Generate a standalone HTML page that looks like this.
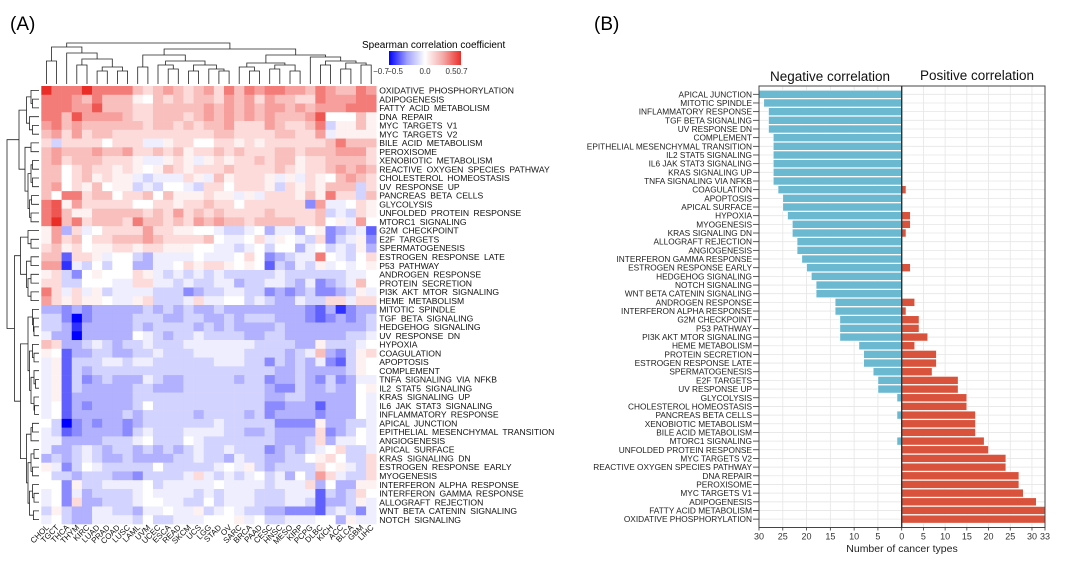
<!DOCTYPE html>
<html><head><meta charset="utf-8"><style>
html,body{margin:0;padding:0;background:#fff;}
svg{display:block;font-family:"Liberation Sans",Arial,sans-serif;}
</style></head><body>
<svg id="fig" width="1080" height="569" viewBox="0 0 1080 569" xmlns="http://www.w3.org/2000/svg">
<defs><linearGradient id="cb" x1="0" x2="1" y1="0" y2="0">
<stop offset="0" stop-color="rgb(0,0,255)"/><stop offset="0.25" stop-color="rgb(160,160,255)"/><stop offset="0.5" stop-color="#fff"/><stop offset="0.75" stop-color="rgb(245,170,168)"/><stop offset="1" stop-color="rgb(235,45,40)"/></linearGradient></defs>
<text x="10" y="30" font-size="19">(A)</text>
<text x="594" y="30" font-size="19">(B)</text>
<g>
<text x="362" y="48" font-size="10">Spearman correlation coefficient</text>
<rect x="389" y="51" width="72" height="14" fill="url(#cb)"/>
<g font-size="8" fill="#333" text-anchor="middle">
<text x="381" y="74">−0.7</text><text x="395" y="74">−0.5</text><text x="425" y="74">0.0</text><text x="451" y="74">0.5</text><text x="462" y="74">0.7</text></g>
</g>
<g id="heat"></g>
<g id="dendro"></g>
<g id="bars"></g>
</svg>
<script>
const rowNames=["OXIDATIVE PHOSPHORYLATION","ADIPOGENESIS","FATTY ACID METABOLISM","DNA REPAIR","MYC TARGETS V1","MYC TARGETS V2","BILE ACID METABOLISM","PEROXISOME","XENOBIOTIC METABOLISM","REACTIVE OXYGEN SPECIES PATHWAY","CHOLESTEROL HOMEOSTASIS","UV RESPONSE UP","PANCREAS BETA CELLS","GLYCOLYSIS","UNFOLDED PROTEIN RESPONSE","MTORC1 SIGNALING","G2M CHECKPOINT","E2F TARGETS","SPERMATOGENESIS","ESTROGEN RESPONSE LATE","P53 PATHWAY","ANDROGEN RESPONSE","PROTEIN SECRETION","PI3K AKT MTOR SIGNALING","HEME METABOLISM","MITOTIC SPINDLE","TGF BETA SIGNALING","HEDGEHOG SIGNALING","UV RESPONSE DN","HYPOXIA","COAGULATION","APOPTOSIS","COMPLEMENT","TNFA SIGNALING VIA NFKB","IL2 STAT5 SIGNALING","KRAS SIGNALING UP","IL6 JAK STAT3 SIGNALING","INFLAMMATORY RESPONSE","APICAL JUNCTION","EPITHELIAL MESENCHYMAL TRANSITION","ANGIOGENESIS","APICAL SURFACE","KRAS SIGNALING DN","ESTROGEN RESPONSE EARLY","MYOGENESIS","INTERFERON ALPHA RESPONSE","INTERFERON GAMMA RESPONSE","ALLOGRAFT REJECTION","WNT BETA CATENIN SIGNALING","NOTCH SIGNALING"];
const colNames=["CHOL","TGCT","THCA","THYM","KIRC","LUAD","PRAD","COAD","LUSC","LAML","UVM","UCEC","ESCA","READ","SKCM","UCS","LGG","STAD","OV","SARC","BRCA","PAAD","CESC","HNSC","MESO","KIRP","PCPG","DLBC","KICH","ACC","BLCA","GBM","LIHC"];
// Correlation matrix: letter code A=-0.7 ... H=0 ... O=+0.7
const heatRows=[
"OMMMOMMMMKJKLKJKLJMKMLMMLLKMLKKML","MMMLKMKKKIHKJKJKKJLKLJLKKJJMLLLMM","MMMLLNKKKJJKKKKKLKLKLKLLKLKLLLMMM",
"MMKNLLLLKJJKKKJKLKLKLKLKKKLNHHHKI","LMKLKKKKKKJKKJKJKKLJJJLKJJKMFIIKI","KLJLJKKJJJJJJJJJJKKJJJJKKJJLGIIII",
"JFJJJJHJJJGGIJJHHJJIJIJJJJJJKMKKK","KLKKKLKKLJJKJKIJJKJKJJJKKJKKKLLLJ","KLJKKKJJJIGGIJIGIJIJJKJKKIJJKKKKJ",
"KKHJKJJIJIHIKJIJJJKJJJJKJIJJKLKLK","KKHJKIJIIGFGGGJIGKIJJJIGIGJIHKLKJ","KLHJIKHIIFGFHHGFJJHJJJIFJIJIKKKFJ",
"KHMMJKKHJJKHKIIIJIIGIGJJJIKIMJJFK","MNILJJJJJHHJJIJJKJJHJJJJJJDLGGHJI","MNKIIKKKKKJKJLJKJKJJJJKJJJJKFGFJI",
"MOKMJKKKJMKKJKJLKLKKJKKKKJJKHIGLH","ILEJGHJJJJLJJIIHHGFFGHEGGEHIDEFGC","ILJKHJJKKKLKJJJJKHGGHJGIHGFJDFGID",
"JKIJHIIJJIJJIIIHHGGFGHFHHEGHFGFIE","KKCJJIGHHFEGGGGHGGGHJHDEFGGMHGFHJ","LLBGFHFHHEEGGHJIJJIHIHCFEGFIGHGHI",
"IJFDHIHHHJIGFGFGFGFFFFFGFFFFFFGGH","JJFFHHHGGJJGGFGFFGGEFFGGFEGDEFGKH","MJGJGIFGGGGFFFDEFFGGFFDEDEFDDEFIG",
"LJIJIIHGGIJFFFGJGGHHFGFEEGFFJJGJJ","EEDEDEEEEEFEFEFEEFEEEEEEEEDCEBDEE","FFDADEEEEFFFEEFFEEFEFFFEEEDCDEDEF",
"FFEBEEEEEFEFFFFEFEFEEEEFEEEEEEEEF","GEEAEEEEEHGFEFFGFFFFEEFFEEEEEEFFG","KJEEFGFEFFGFFFGGGGGGGFFFFEEIFFFGH",
"IHCEEFFEEFFGFFFGGGGGFFFFEFGKEDFIJ","GICFFFGGFGGFFFFFFGGGFFDFEFEGDCFIH","GICFEFFFFFFFFFFFFFFFFFFEEFEEEEFIH",
"GICFDEFEEEGFEEFFFFFEFFDEEFEDFDEGG","GICFEEEEEFFEEEFFFFFFFFEDDFEEFEEHI","GICEEEEEEFFFFFFFFFFFFFEEFFEEEEEHG",
"GHCEDEEEEFHFFFFFFFFFFFDDEEECEEEHG","GHCEEEEEFEFFFFFEFFFFEFDEEEEDEEEHG","HFADEDEEDEFFFFFFFGFFFFFDDDDIEEFFG",
"GFCDEEEEDFGFFFGGGGFFEEFEEEEJDEFHG","GGEEEEFFFGHFFFHGFFFFFFFEEEFJEGGHG","GEEFGFEFFEFEFEFGFFGFFFDEFEFGHJFFG",
"EFEFGFEEFEEEEFFGFFEGFFEEFFHIJHFFJ","IGDFHGFFFFFHFFFFFGHGIFEFFFFJHIGFJ","HFFEFFFEEDFFFFGJGFGFGHFGEHFLJGFFJ",
"HHDIFFGGGGHFGGGGGHGGGGFGGGJEHEEII","GHDGEFFFFGHGGGGFGFGGGFFFGGGCFEFJH","GHDJEEFFFGHHGGFFHFGGGFFFGGFCEEFIG",
"FIFEEGGFFEGGHGGIFGHGFFEEDDDCFGFDG","GHFEEGGGGFHFFGGGHHHIGHFFGGGHHEIGG"];
// Bar chart data (number of cancer types)
const barNames=["APICAL JUNCTION","MITOTIC SPINDLE","INFLAMMATORY RESPONSE","TGF BETA SIGNALING","UV RESPONSE DN","COMPLEMENT","EPITHELIAL MESENCHYMAL TRANSITION","IL2 STAT5 SIGNALING","IL6 JAK STAT3 SIGNALING","KRAS SIGNALING UP","TNFA SIGNALING VIA NFKB","COAGULATION","APOPTOSIS","APICAL SURFACE","HYPOXIA","MYOGENESIS","KRAS SIGNALING DN","ALLOGRAFT REJECTION","ANGIOGENESIS","INTERFERON GAMMA RESPONSE","ESTROGEN RESPONSE EARLY","HEDGEHOG SIGNALING","NOTCH SIGNALING","WNT BETA CATENIN SIGNALING","ANDROGEN RESPONSE","INTERFERON ALPHA RESPONSE","G2M CHECKPOINT","P53 PATHWAY","PI3K AKT MTOR SIGNALING","HEME METABOLISM","PROTEIN SECRETION","ESTROGEN RESPONSE LATE","SPERMATOGENESIS","E2F TARGETS","UV RESPONSE UP","GLYCOLYSIS","CHOLESTEROL HOMEOSTASIS","PANCREAS BETA CELLS","XENOBIOTIC METABOLISM","BILE ACID METABOLISM","MTORC1 SIGNALING","UNFOLDED PROTEIN RESPONSE","MYC TARGETS V2","REACTIVE OXYGEN SPECIES PATHWAY","DNA REPAIR","PEROXISOME","MYC TARGETS V1","ADIPOGENESIS","FATTY ACID METABOLISM","OXIDATIVE PHOSPHORYLATION"];
const negCounts=[30,29,28,28,28,27,27,27,27,27,27,26,25,25,24,23,23,22,22,21,20,19,18,18,14,14,13,13,13,9,8,8,6,5,5,1,0,1,0,0,1,0,0,0,0,0,0,0,0,0];
const posCounts=[0,0,0,0,0,0,0,0,0,0,0,1,0,0,2,2,1,0,0,0,2,0,0,0,3,1,4,4,6,3,8,8,7,13,13,15,15,17,17,17,19,20,24,24,27,27,28,31,33,33];
const negTicks=[30,25,20,15,10,5,0];
const posTicks=[5,10,15,20,25,30,33];

const NS="http://www.w3.org/2000/svg";
function mk(tag,attrs,parent){const e=document.createElementNS(NS,tag);for(const k in attrs)e.setAttribute(k,attrs[k]);parent.appendChild(e);return e;}
function val(ch){return (ch.charCodeAt(0)-72)/10;}
function color(v){const t=Math.pow(Math.min(1,Math.abs(v)/0.7),1.4);
 if(v>=0){return `rgb(${Math.round(255-20*t)},${Math.round(255-210*t)},${Math.round(255-215*t)})`;}
 return `rgb(${Math.round(255-255*t)},${Math.round(255-255*t)},255)`;}

// ---------- heatmap ----------
const hx0=41.3,hy0=86,cw=10.15,rh=8.76;
const heat=document.getElementById('heat');
const hcx=i=>hx0+i*cw, hry=j=>hy0+j*rh;
heatRows.forEach((row,j)=>{
 for(let i=0;i<colNames.length;i++){
  const ch=row[i]||'H';
  const r=mk('rect',{x:hcx(i).toFixed(2),y:hry(j).toFixed(2),width:(cw+0.3).toFixed(2),height:(rh+0.3).toFixed(2),fill:color(val(ch))},heat);
  
  
 }
 const t=mk('text',{x:hx0+colNames.length*cw+3,y:(hry(j)+rh-1.2).toFixed(2),'font-size':'8.6','fill':'#111','word-spacing':'2'},heat);
 t.textContent=rowNames[j];
 
 
});
colNames.forEach((c,i)=>{
 const x=hcx(i)+cw/2+3,y=hry(50)+4;
 const t=mk('text',{x:x.toFixed(1),y:y.toFixed(1),'font-size':'8','text-anchor':'end',fill:'#111',transform:`rotate(-45 ${x.toFixed(1)} ${y.toFixed(1)})`},heat);
 t.textContent=c;
 
 
});

// ---------- dendrograms ----------
const dg=document.getElementById('dendro');
const colTree=[1.0,[0.9,[0.55,0,1],[0.75,2,[0.6,[0.45,3,4],[0.4,[0.3,5,6],[0.3,7,8]]]]],[0.85,[0.7,[0.4,9,10],[0.55,[0.45,11,[0.35,12,13]],[0.45,[0.3,14,15],[0.35,16,[0.3,17,18]]]]],[0.7,[0.5,[0.4,19,[0.3,20,21]],[0.45,[0.35,22,23],[0.3,24,25]]],[0.65,26,[0.55,[0.45,27,28],[0.5,[0.35,29,30],[0.45,31,32]]]]]]];
const rA=[0.6,[0.35,[0.2,0,[0.15,1,2]],[0.25,3,[0.15,4,5]]],[0.4,[0.2,6,7],[0.3,[0.2,[0.15,8,9],[0.15,10,11]],[0.25,[0.18,12,13],[0.2,14,15]]]]];
const rB=[0.55,[0.3,16,[0.2,17,18]],[0.35,[0.2,19,20],[0.3,[0.2,21,22],[0.2,23,24]]]];
const rC=[0.55,[0.3,[0.15,25,[0.12,26,[0.1,27,28]]],[0.25,[0.15,29,[0.1,30,31]],[0.2,[0.1,32,[0.05,33,34]],[0.1,35,[0.08,36,37]]]]],[0.35,[0.2,[0.15,38,39],40],[0.3,[0.2,[0.1,41,42],[0.15,43,44]],[0.25,[0.15,45,[0.1,46,47]],[0.12,48,49]]]]];
const rowTree=[1.0,rA,[0.75,rB,rC]];
let dpath='';
function walk(n,pos,hpos,leafH){
 if(typeof n==='number')return {p:pos(n),h:leafH};
 const a=walk(n[1],pos,hpos,leafH),b=walk(n[2],pos,hpos,leafH),h=hpos(n[0]);
 return {p:(a.p+b.p)/2,h:h,a:a,b:b};
}
function drawCol(n){ if(!n.a)return;
 dpath+=`M${n.a.p.toFixed(1)},${n.a.h.toFixed(1)}V${n.h.toFixed(1)}H${n.b.p.toFixed(1)}V${n.b.h.toFixed(1)}`;
 drawCol(n.a);drawCol(n.b);}
const ct=walk(colTree,i=>hcx(i)+cw/2,h=>83-h*40,84);
drawCol(ct);
const cp=mk('path',{d:dpath,fill:'none',stroke:'#222','stroke-width':'0.8'},dg);


dpath='';
function drawRow(n){ if(!n.a)return;
 dpath+=`M${n.a.h.toFixed(1)},${n.a.p.toFixed(1)}H${n.h.toFixed(1)}V${n.b.p.toFixed(1)}H${n.b.h.toFixed(1)}`;
 drawRow(n.a);drawRow(n.b);}
const rt=walk(rowTree,j=>hry(j)+rh/2,h=>37-h*30,39);
drawRow(rt);
const rp=mk('path',{d:dpath,fill:'none',stroke:'#222','stroke-width':'0.8'},dg);



// ---------- bar chart ----------
const bars=document.getElementById('bars');
const fx0=759,fx1=1045,zx=901.7,fy0=86,fy1=527.5;
const xNeg=v=>zx-v*(zx-fx0)/30;
const xPos=v=>zx+v*(fx1-zx)/33;
const by0=94.3,bstep=8.67;
const yB=i=>by0+i*bstep;
const grid=mk('g',{stroke:'#e6e6e6','stroke-width':'0.8'},bars);


negTicks.forEach(v=>mk('line',{x1:xNeg(v),x2:xNeg(v),y1:fy0,y2:fy1},grid));
posTicks.forEach(v=>mk('line',{x1:xPos(v),x2:xPos(v),y1:fy0,y2:fy1},grid));
barNames.forEach((n,i)=>mk('line',{x1:fx0,x2:fx1,y1:yB(i),y2:yB(i)},grid));
barNames.forEach((n,i)=>{
 const y=yB(i);
 if(negCounts[i]>0){
  const r=mk('rect',{x:xNeg(negCounts[i]).toFixed(2),y:(y-4).toFixed(2),width:(zx-xNeg(negCounts[i])).toFixed(2),height:8,fill:'#6bb8d1',stroke:'#fff','stroke-width':'0.6'},bars);
  
  
 }
 if(posCounts[i]>0){
  const r=mk('rect',{x:zx,y:(y-4).toFixed(2),width:(xPos(posCounts[i])-zx).toFixed(2),height:8,fill:'#d9533c',stroke:'#fff','stroke-width':'0.6'},bars);
  
  
 }
 const t=mk('text',{x:752,y:(y+3).toFixed(2),'font-size':'8.3','text-anchor':'end',fill:'#222'},bars);
 t.textContent=n;
 
 
 mk('line',{x1:753,x2:759,y1:y,y2:y,stroke:'#333','stroke-width':'0.8'},bars);
});
const frame=mk('rect',{x:fx0,y:fy0,width:fx1-fx0,height:fy1-fy0,fill:'none',stroke:'#444','stroke-width':'1'},bars);


const zl=mk('line',{x1:zx,x2:zx,y1:fy0,y2:fy1,stroke:'#333','stroke-width':'1.4'},bars);


function tick(x,lab){
 mk('line',{x1:x,x2:x,y1:fy1,y2:fy1+3,stroke:'#333','stroke-width':'0.8'},bars);
 const t=mk('text',{x:x,y:fy1+12,'font-size':'9','text-anchor':'middle',fill:'#333'},bars);
 t.textContent=lab;
 
 
}
negTicks.forEach(v=>tick(xNeg(v),v));
posTicks.forEach(v=>tick(xPos(v),v));
const xt=mk('text',{x:902,y:552,'font-size':'10.5','text-anchor':'middle',fill:'#222'},bars);
xt.textContent='Number of cancer types';


const h1=mk('text',{x:830,y:81,'font-size':'13.5','text-anchor':'middle',fill:'#111'},bars);
h1.textContent='Negative correlation';


const h2=mk('text',{x:977,y:80,'font-size':'13.5','text-anchor':'middle',fill:'#111'},bars);
h2.textContent='Positive correlation';


</script>
</body></html>
